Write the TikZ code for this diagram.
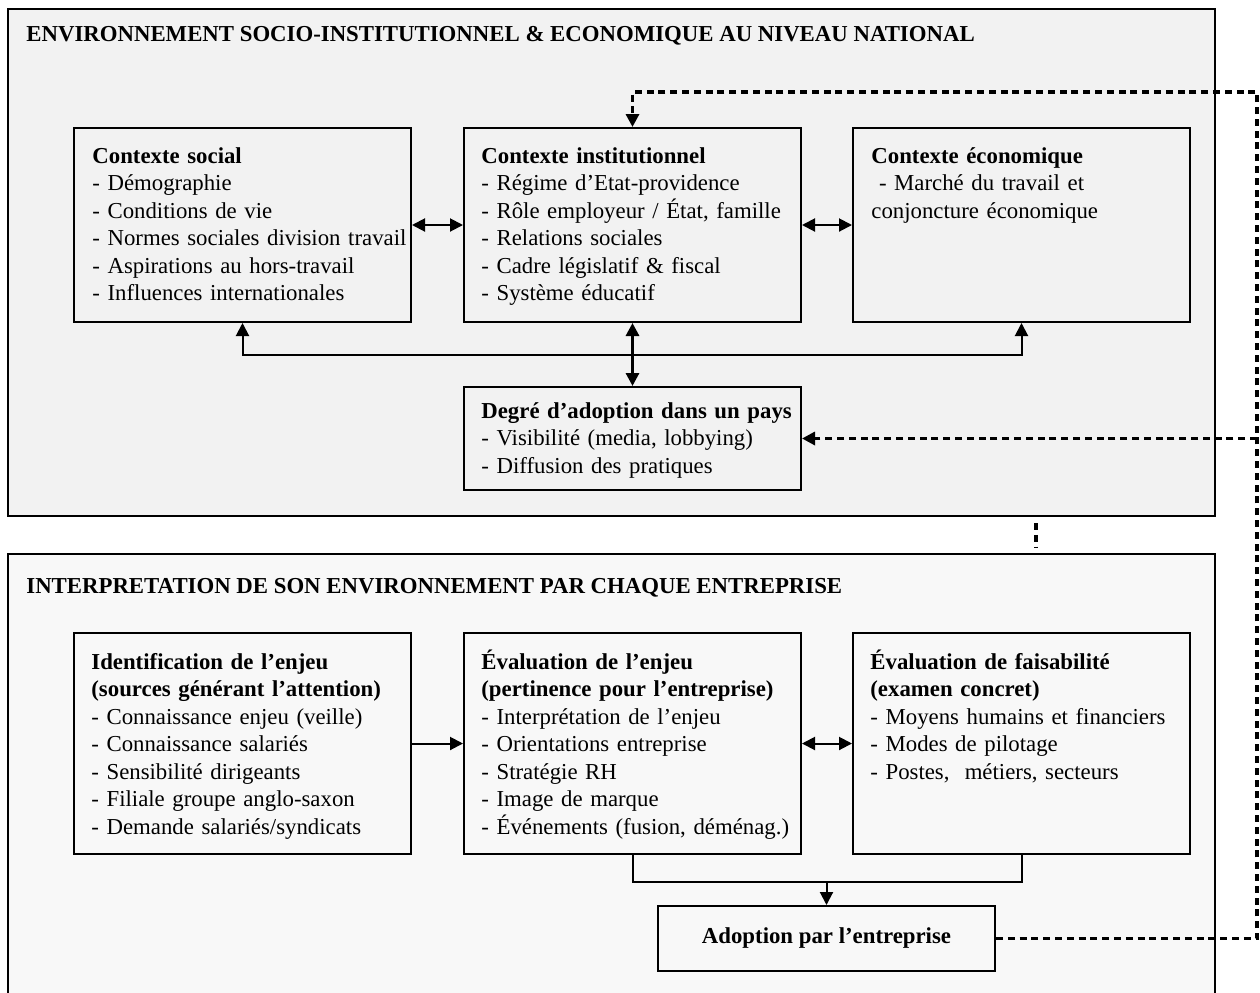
\documentclass[tikz,border=0pt]{standalone}
\usepackage{fontspec}
\setmainfont{Liberation Serif}
\usetikzlibrary{arrows.meta}
\definecolor{topgray}{HTML}{F2F2F2}
\definecolor{botgray}{HTML}{F8F8F8}
\newcommand{\boxfont}{\fontsize{11.4pt}{13.75pt}\selectfont}
\begin{document}
\begin{tikzpicture}[x=0.5pt,y=-0.5pt,line join=miter,>={Triangle[length=6.5pt,width=6.5pt]},
  panel/.style={draw,line width=1pt},
  frame/.style={draw,line width=1pt,anchor=north west,inner sep=0pt,minimum width=168.5pt,minimum height=#1},
  frame/.default=97pt,
  ctxtext/.style={anchor=base west,inner sep=0pt,text width=175pt,align=left,font=\boxfont},
  paneltitle/.style={anchor=base west,inner sep=0pt,font=\boxfont\bfseries},
  link/.style={line width=1pt},
  dashlink/.style={line width=1.6pt,dash pattern=on 3.5pt off 2.4pt}]
\clip (0,0) rectangle (1260,992);
% the two panels
\draw[panel,fill=topgray] (8,9) rectangle (1215,516);
\draw[panel,fill=botgray] (8,554) rectangle (1215,1000);
\node[paneltitle] (nattitle) at (26,41) {ENVIRONNEMENT SOCIO-INSTITUTIONNEL \& ECONOMIQUE AU NIVEAU NATIONAL};
\node[paneltitle] (enttitle) at (26,593) {INTERPRETATION DE SON ENVIRONNEMENT PAR CHAQUE ENTREPRISE};
% national level
\node[frame] (social) at (73,127) {};
\node[frame] (inst) at (463,127) {};
\node[frame] (eco) at (852,127) {};
\node[frame=51.5pt] (degre) at (463,386) {};
\node[ctxtext] (socialtxt) at ([shift={(19,36)}]social.north west) {\textbf{Contexte social}\\- Démographie\\- Conditions de vie\\- Normes sociales division travail\\- Aspirations au hors-travail\\- Influences internationales};
\node[ctxtext] (insttxt) at ([shift={(18,36)}]inst.north west) {\textbf{Contexte institutionnel}\\- Régime d’Etat-providence\\- Rôle employeur / État, famille\\- Relations sociales\\- Cadre législatif \& fiscal\\- Système éducatif};
\node[ctxtext] (ecotxt) at ([shift={(19,36)}]eco.north west) {\textbf{Contexte économique}\\~- Marché du travail et\\conjoncture économique};
\node[ctxtext] (degretxt) at ([shift={(18,32)}]degre.north west) {\textbf{Degré d’adoption dans un pays}\\- Visibilité (media, lobbying)\\- Diffusion des pratiques};
\draw[link,<->] (social.east) -- (inst.west);
\draw[link,<->] (inst.east) -- (eco.west);
\draw[link,<->] (social.south) -- ++(0,32) -| (eco.south);
\draw[line width=1.5pt,<->] (inst.south) -- (degre.north);
% company level
\node[frame=110.5pt] (ident) at (73,632) {};
\node[frame=110.5pt] (evalenj) at (463,632) {};
\node[frame=110.5pt] (faisab) at (852,632) {};
\node[frame=32.5pt,anchor=north west,font=\boxfont\bfseries] (adopt) at (657,905) {Adoption par l’entreprise};
\node[ctxtext] (identtxt) at ([shift={(18,37)}]ident.north west) {\textbf{Identification de l’enjeu}\\\textbf{(sources générant l’attention)}\\- Connaissance enjeu (veille)\\- Connaissance salariés\\- Sensibilité dirigeants\\- Filiale groupe anglo-saxon\\- Demande salariés/syndicats};
\node[ctxtext] (evalenjtxt) at ([shift={(18,37)}]evalenj.north west) {\textbf{Évaluation de l’enjeu}\\\textbf{(pertinence pour l’entreprise)}\\- Interprétation de l’enjeu\\- Orientations entreprise\\- Stratégie RH\\- Image de marque\\- Événements (fusion, déménag.)};
\node[ctxtext] (faisabtxt) at ([shift={(18,37)}]faisab.north west) {\textbf{Évaluation de faisabilité}\\\textbf{(examen concret)}\\- Moyens humains et financiers\\- Modes de pilotage\\- Postes,\ \ métiers, secteurs};
\draw[link,->] (ident.east) -- (evalenj.west);
\draw[link,<->] (evalenj.east) -- (faisab.west);
\draw[link] (evalenj.south) -- ++(0,27) coordinate (join) -| (faisab.south);
\draw[link,->] (adopt.north |- join) -- (adopt.north);
% feedback loop
\coordinate (rail) at (1257,92);
\coordinate (stubtop) at (1036,523);
\coordinate (stubbot) at (1036,547);
\draw[dashlink,->] (adopt.east) -| (rail) -| (inst.north);
\draw[dashlink,->] (rail |- degre.east) -- (degre.east);
\draw[dashlink] (stubtop) -- (stubbot);
\end{tikzpicture}
\end{document}
